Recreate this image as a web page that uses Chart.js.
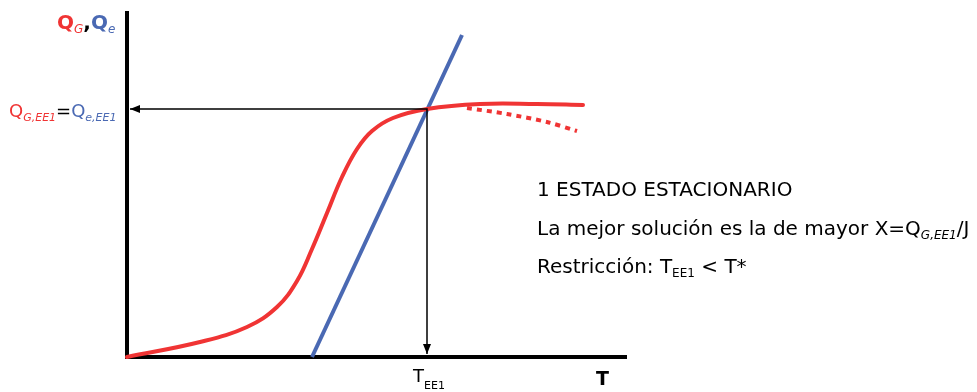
<!DOCTYPE html>
<html>
<head>
<meta charset="utf-8">
<script src="https://cdn.jsdelivr.net/npm/chart.js@4"></script>
<style>
    html, body { margin: 0; padding: 0; background: #ffffff; }
    #chart { display: block; }
</style>
</head>
<body>
<canvas id="chart" width="977" height="392"></canvas>
<script>
// curve data (T on x, Q on y, arbitrary units)
const genT = [0, 73, 120, 150, 170, 185, 200, 215, 230, 245, 266, 300, 353, 410, 456];
const genQ = [0, 15, 30, 50, 76, 108, 144, 180, 208, 226, 239, 248, 253, 253, 252];
const genDropT = [340, 380, 420, 450];
const genDropQ = [249, 243, 235, 226];
const remT = [185, 335];
const remQ = [0, 322];
const steadyT = 300;
const steadyQ = 248;
const axisMaxT = 500;
const axisMaxQ = 346;

const RED = "#f03434";
const BLUE = "#4a69b3";
const FONT = "'DejaVu Sans', sans-serif";

const toPts = (xs, ys) => xs.map((x, i) => ({ x: x, y: ys[i] }));

// draws a run of text pieces; each piece: [text, color, size, dy, style]
function drawRuns(ctx, x, y, runs) {
    let cx = x;
    runs.forEach(function (r) {
        ctx.font = (r[4] || "") + " " + r[2] + "px " + FONT;
        ctx.fillStyle = r[1];
        ctx.fillText(r[0], cx, y + (r[3] || 0));
        cx += ctx.measureText(r[0]).width;
    });
}

const annotations = {
    id: "annotations",
    afterDatasetsDraw(chart) {
        const ctx = chart.ctx;
        const xs = chart.scales.x;
        const ys = chart.scales.y;
        const px = xs.getPixelForValue(steadyT);
        const py = ys.getPixelForValue(steadyQ);
        const x0 = xs.getPixelForValue(0);
        const y0 = ys.getPixelForValue(0);

        ctx.save();
        ctx.fillStyle = "#000";
        // arrow heads
        ctx.beginPath();
        ctx.moveTo(x0 + 3, py);
        ctx.lineTo(x0 + 13, py - 4);
        ctx.lineTo(x0 + 13, py + 4);
        ctx.closePath();
        ctx.fill();
        ctx.beginPath();
        ctx.moveTo(px, y0 - 3);
        ctx.lineTo(px - 4, y0 - 13);
        ctx.lineTo(px + 4, y0 - 13);
        ctx.closePath();
        ctx.fill();

        ctx.textBaseline = "alphabetic";
        drawRuns(ctx, 57, 29, [
            ["Q", RED, 20, 0, "bold"], ["G", RED, 12, 4, "italic"],
            [",", "#000", 20, 0, "bold"],
            ["Q", BLUE, 20, 0, "bold"], ["e", BLUE, 12, 4, "italic"]
        ]);
        drawRuns(ctx, 9, 117, [
            ["Q", RED, 18, 0], ["G,EE1", RED, 11, 4, "italic"],
            ["=", "#000", 18, 0],
            ["Q", BLUE, 18, 0], ["e,EE1", BLUE, 11, 4, "italic"]
        ]);
        drawRuns(ctx, px - 14, 382, [["T", "#000", 18, 0], ["EE1", "#000", 11, 7]]);
        drawRuns(ctx, 596, 385, [["T", "#000", 19, 0, "bold"]]);

        drawRuns(ctx, 537, 196, [["1 ESTADO ESTACIONARIO", "#000", 20, 0]]);
        drawRuns(ctx, 537, 235, [
            ["La mejor solución es la de mayor X=Q", "#000", 20, 0],
            ["G,EE1", "#000", 12, 4, "italic"],
            ["/J", "#000", 20, 0]
        ]);
        drawRuns(ctx, 537, 273, [
            ["Restricción: T", "#000", 20, 0],
            ["EE1", "#000", 12, 4],
            [" < T*", "#000", 20, 0]
        ]);
        ctx.restore();
    }
};

new Chart(document.getElementById("chart"), {
    type: "scatter",
    data: {
        datasets: [
            {
                label: "guide",
                data: [{ x: 3, y: steadyQ }, { x: steadyT, y: steadyQ }, { x: steadyT, y: 3 }],
                showLine: true,
                borderColor: "#000",
                borderWidth: 1.5,
                pointRadius: 0,
                tension: 0,
            },
            {
                label: "QG drop",
                data: toPts(genDropT, genDropQ),
                showLine: true,
                borderColor: RED,
                borderWidth: 4,
                borderDash: [5, 5],
                pointRadius: 0,
                tension: 0.3,
            },
            {
                label: "QG",
                data: toPts(genT, genQ),
                showLine: true,
                borderColor: RED,
                borderWidth: 4,
                borderCapStyle: "round",
                pointRadius: 0,
                tension: 0.4,
                clip: false,
            },
            {
                label: "Qe",
                data: toPts(remT, remQ),
                showLine: true,
                borderColor: BLUE,
                borderWidth: 4,
                pointRadius: 0,
                clip: false,
            },
            {
                label: "axes",
                data: [{ x: 0, y: axisMaxQ }, { x: 0, y: 0 }, { x: axisMaxT, y: 0 }],
                showLine: true,
                borderColor: "#000",
                borderWidth: 4,
                pointRadius: 0,
                tension: 0,
                clip: false,
            },
        ],
    },
    options: {
        responsive: false,
        animation: false,
        devicePixelRatio: 1,
        layout: { padding: { left: 127, right: 350, top: 11, bottom: 35 } },
        scales: {
            x: { type: "linear", min: 0, max: axisMaxT, display: false },
            y: { type: "linear", min: 0, max: axisMaxQ, display: false },
        },
        plugins: {
            legend: { display: false },
            tooltip: { enabled: false },
        },
    },
    plugins: [annotations],
});
</script>
</body>
</html>
